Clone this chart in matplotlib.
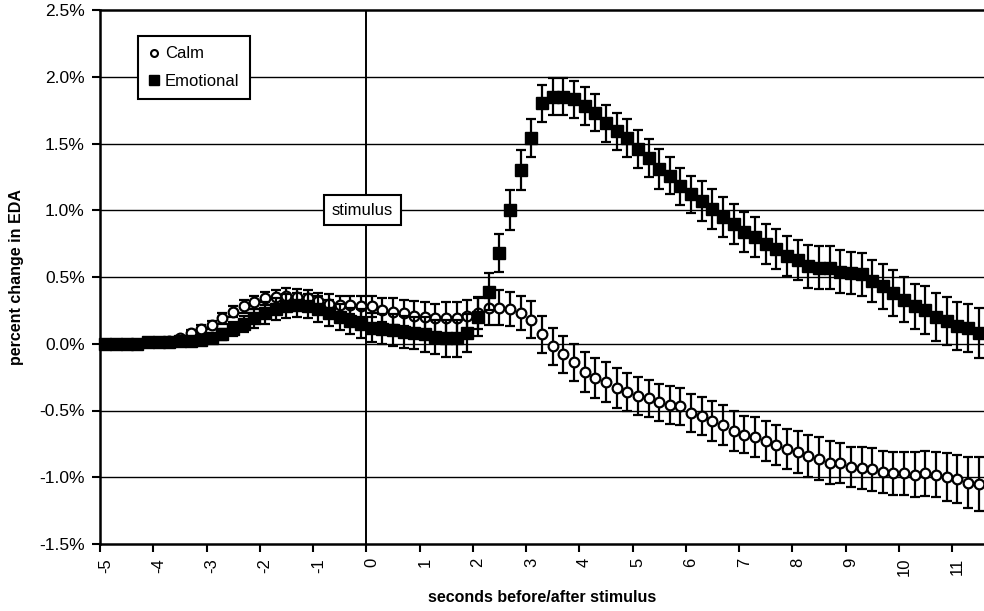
import numpy as np
import matplotlib
matplotlib.use("Agg")
import matplotlib.pyplot as plt
from matplotlib.lines import Line2D
from matplotlib.ticker import FixedLocator, FuncFormatter

plt.rcParams["font.family"] = ["Liberation Sans", "DejaVu Sans"]
plt.rcParams["axes.unicode_minus"] = False

# Time bins (s), 0.2 s apart, relative to stimulus onset
times = np.round(np.arange(-5.0, 11.45, 0.2), 1)

# Mean percent change in EDA per bin
calm = [
    0.00, 0.00, 0.00, 0.00, 0.01, 0.01, 0.02, 0.04, 0.08, 0.11,
    0.14, 0.19, 0.24, 0.28, 0.31, 0.34, 0.35, 0.36, 0.35, 0.34,
    0.32, 0.30, 0.29, 0.29, 0.28, 0.28, 0.25, 0.24, 0.23, 0.21,
    0.20, 0.19, 0.19, 0.19, 0.21, 0.23, 0.27, 0.27, 0.26, 0.23,
    0.18, 0.07, -0.02, -0.08, -0.14, -0.21, -0.26, -0.29, -0.33, -0.36,
    -0.39, -0.41, -0.44, -0.46, -0.47, -0.52, -0.54, -0.58, -0.61, -0.65,
    -0.68, -0.70, -0.73, -0.76, -0.79, -0.81, -0.84, -0.86, -0.89, -0.89,
    -0.92, -0.93, -0.94, -0.96, -0.97, -0.97, -0.98, -0.97, -0.98, -1.00,
    -1.01, -1.04, -1.05,
]
emotional = [
    0.00, 0.00, 0.00, 0.00, 0.01, 0.01, 0.01, 0.02, 0.02, 0.03,
    0.04, 0.07, 0.11, 0.15, 0.19, 0.23, 0.26, 0.28, 0.29, 0.28,
    0.26, 0.23, 0.20, 0.17, 0.15, 0.12, 0.11, 0.10, 0.09, 0.08,
    0.07, 0.05, 0.04, 0.04, 0.08, 0.20, 0.39, 0.68, 1.00, 1.30,
    1.54, 1.80, 1.85, 1.85, 1.83, 1.78, 1.73, 1.65, 1.59, 1.54,
    1.46, 1.39, 1.31, 1.26, 1.18, 1.12, 1.07, 1.01, 0.95, 0.90,
    0.84, 0.80, 0.75, 0.71, 0.66, 0.63, 0.58, 0.57, 0.57, 0.54,
    0.53, 0.52, 0.47, 0.43, 0.38, 0.33, 0.28, 0.25, 0.20, 0.17,
    0.13, 0.12, 0.08,
]

# Standard errors
calm_err = [
    0.00, 0.00, 0.00, 0.00, 0.01, 0.01, 0.01, 0.01, 0.02, 0.03,
    0.03, 0.04, 0.04, 0.05, 0.05, 0.05, 0.05, 0.06, 0.06, 0.06,
    0.06, 0.07, 0.07, 0.07, 0.08, 0.08, 0.09, 0.10, 0.10, 0.11,
    0.11, 0.11, 0.12, 0.12, 0.12, 0.12, 0.13, 0.13, 0.13, 0.13,
    0.14, 0.14, 0.14, 0.14, 0.14, 0.15, 0.15, 0.15, 0.15, 0.14,
    0.14, 0.14, 0.14, 0.14, 0.14, 0.14, 0.14, 0.15, 0.15, 0.15,
    0.14, 0.15, 0.15, 0.15, 0.15, 0.16, 0.16, 0.16, 0.16, 0.15,
    0.15, 0.16, 0.16, 0.16, 0.16, 0.16, 0.17, 0.17, 0.17, 0.18,
    0.18, 0.19, 0.20,
]
emotional_err = [
    0.00, 0.00, 0.00, 0.00, 0.01, 0.01, 0.01, 0.01, 0.02, 0.02,
    0.03, 0.04, 0.05, 0.06, 0.07, 0.08, 0.08, 0.09, 0.09, 0.09,
    0.10, 0.10, 0.10, 0.10, 0.11, 0.11, 0.11, 0.12, 0.12, 0.12,
    0.13, 0.13, 0.14, 0.14, 0.14, 0.14, 0.14, 0.14, 0.15, 0.15,
    0.14, 0.14, 0.14, 0.14, 0.14, 0.14, 0.14, 0.14, 0.14, 0.14,
    0.14, 0.14, 0.15, 0.14, 0.14, 0.14, 0.15, 0.15, 0.15, 0.15,
    0.15, 0.15, 0.15, 0.15, 0.15, 0.15, 0.16, 0.16, 0.16, 0.16,
    0.16, 0.16, 0.16, 0.17, 0.17, 0.17, 0.17, 0.18, 0.18, 0.18,
    0.18, 0.18, 0.19,
]

x_tick_labels = ["-5", "-4", "-3", "-2", "-1", "0", "1", "2", "3", "4",
                 "5", "6", "7", "8", "9", "10", "11"]
y_ticks = [-1.5, -1.0, -0.5, 0.0, 0.5, 1.0, 1.5, 2.0, 2.5]

n = len(times)
# category axis: each bin occupies one unit, points sit in the middle
pos = np.arange(n) + 0.5
per_label = 5  # bins per labelled second

fig = plt.figure(figsize=(9.84, 6.11), dpi=100)
ax = fig.add_axes([100 / 984, 67 / 611, 884 / 984, 534 / 611])

ax.set_xlim(0, n)
ax.set_ylim(y_ticks[0], y_ticks[-1])

for yv in y_ticks[1:-1]:
    ax.axhline(yv, color="black", lw=1.0, zorder=1)
stim_idx = list(times).index(0.0)
ax.axvline(stim_idx, color="black", lw=1.4, zorder=1)

ax.errorbar(pos, calm, yerr=calm_err, fmt="o", ms=7, mfc="white",
            mec="black", mew=1.6, ecolor="black", elinewidth=1.6,
            capsize=3.3, capthick=1.6, zorder=3, clip_on=False)
ax.errorbar(pos, emotional, yerr=emotional_err, fmt="s", ms=8.7,
            mfc="black", mec="black", ecolor="black", elinewidth=1.6,
            capsize=3.3, capthick=1.6, zorder=4, clip_on=False)

# ticks on category boundaries, labels centred on the categories
label_pos = np.arange(0, n, per_label)[:len(x_tick_labels)]
ax.xaxis.set_major_locator(FixedLocator(label_pos))
ax.xaxis.set_major_formatter(FuncFormatter(lambda v, p: ""))
ax.set_xticks(label_pos + 0.5, x_tick_labels, minor=True, rotation=90)
ax.tick_params(axis="x", which="major", direction="out", length=6,
               width=1.5, color="black")
ax.tick_params(axis="x", which="minor", length=0, labelsize=12, pad=10)

ax.set_yticks(y_ticks)
ax.yaxis.set_major_formatter(FuncFormatter(lambda v, p: f"{v:.1f}%"))
ax.tick_params(axis="y", direction="out", length=6, width=1.5,
               labelsize=12.5, pad=5)

for side in ("left", "bottom", "top"):
    ax.spines[side].set_linewidth(1.8)
    ax.spines[side].set_color("black")
ax.spines["right"].set_visible(False)

ax.set_xlabel("seconds before/after stimulus", fontsize=11.5,
              fontweight="bold", labelpad=10)
ax.set_ylabel("percent change in EDA", fontsize=11.5, fontweight="bold",
              labelpad=11)

ax.text(stim_idx - 0.35, 1.0, "stimulus", fontsize=12, ha="center",
        va="center", zorder=5,
        bbox=dict(boxstyle="square,pad=0.45", fc="white", ec="black",
                  lw=1.5))

handles = [
    Line2D([], [], marker="o", ls="none", ms=5, mfc="white",
           mec="black", mew=1.5),
    Line2D([], [], marker="s", ls="none", ms=7.5, mfc="black",
           mec="black"),
]
leg = ax.legend(handles, ["Calm", "Emotional"], loc="upper left",
                bbox_to_anchor=(0.043, 0.951), borderaxespad=0,
                fontsize=12, frameon=True, fancybox=False,
                edgecolor="black", framealpha=1, handlelength=0.7,
                handletextpad=0.3, labelspacing=0.75, borderpad=0.62)
leg.get_frame().set_linewidth(1.5)
leg.set_zorder(6)

fig.savefig("out.png", dpi=100, facecolor="white")
